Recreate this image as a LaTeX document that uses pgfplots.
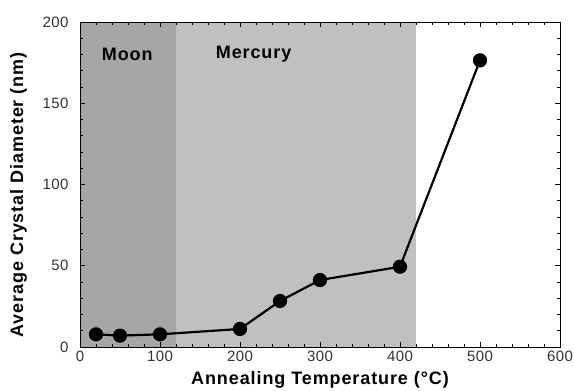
\documentclass[border=0pt]{standalone}
\usepackage{pgfplots}
\pgfplotsset{compat=1.18}
\usepackage{fontspec}
\setmainfont{Liberation Sans}
\definecolor{moon}{RGB}{166,166,166}
\definecolor{merc}{RGB}{192,192,192}
\begin{document}
\begin{tikzpicture}[x=1pt,y=1pt]
\useasboundingbox (-80,-44) rectangle (494,347);
\begin{axis}[
  at={(0,0)}, anchor=south west,
  scale only axis, width=480pt, height=325pt,
  xmin=0, xmax=600, ymin=0, ymax=200,
  xtick={0,100,...,600}, ytick={0,50,...,200},
  minor x tick num=4, minor y tick num=4,
  tick align=inside, tick pos=both,
  major tick length=5pt, minor tick length=3pt,
  axis line style={line width=0.8pt},
  every tick/.style={black, line width=0.8pt},
  ticklabel style={font=\fontsize{15}{15}\selectfont\addfontfeature{LetterSpace=3}, text=black!80},
  yticklabel style={xshift=-8pt},
  /pgf/number format/assume math mode=true,
  xlabel={Annealing Temperature (°C)},
  ylabel={Average Crystal Diameter (nm)},
  label style={font=\fontsize{18}{18}\selectfont\bfseries\addfontfeature{LetterSpace=5}},
  xlabel style={at={(axis description cs:0.5,0)}, anchor=center, yshift=-33pt},
  ylabel style={at={(axis description cs:-0.128,0.468)}, anchor=center},
  axis on top,
  clip=false,
]
\fill[moon] (axis cs:0,0) rectangle (axis cs:120,200);
\fill[merc] (axis cs:120,0) rectangle (axis cs:420,200);
\node[font=\fontsize{18}{18}\selectfont\bfseries\addfontfeature{LetterSpace=5}] at (axis cs:59,180) {Moon};
\node[font=\fontsize{18}{18}\selectfont\bfseries\addfontfeature{LetterSpace=5}] at (axis cs:217,180) {Mercury};
\addplot[black, line width=2.2pt, mark=*, mark size=6pt] coordinates {
(20,7.8) (50,7.0) (100,7.8) (200,11.1) (250,28.3) (300,41.2) (400,49.4) (500,176.4)
};
\end{axis}
\end{tikzpicture}
\end{document}
